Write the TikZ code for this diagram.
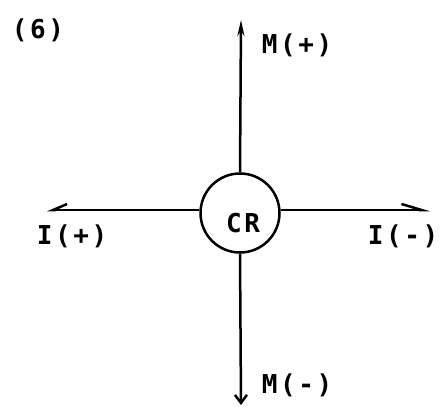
\documentclass[tikz,border=0pt]{standalone}
\usepackage{fontspec}
\setmainfont{DejaVu Sans Mono}[LetterSpace=10]
\usetikzlibrary{arrows.meta}
\begin{document}
\begin{tikzpicture}[x=1pt,y=-1pt,
  lbl/.style={font=\fontsize{26}{26}\selectfont\bfseries, inner sep=0pt},
  ln/.style={line width=2.5pt},
  crnode/.style={circle, draw, line width=2.5pt, minimum size=79pt, inner sep=0pt}]
\useasboundingbox (0,0) rectangle (443,406);
\node[crnode] (cr) at (240,213) {};
\node[lbl] (crt) at (243,223) {CR};
\coordinate (top) at (241,20);
\coordinate (bot) at (241,405);
\coordinate (lft) at (47,210);
\coordinate (rgt) at (430,210);
\draw[ln, -{Stealth[length=16pt,width=7pt]}] (cr.north) -- (top);
\draw[ln, -{Straight Barb[length=8pt,width=12pt]}] (cr.south) -- (bot);
\draw[ln, -{Straight Barb[harpoon,swap,length=14pt,width=12pt]}] (cr.west |- lft) -- (lft);
\draw[ln, -{Straight Barb[harpoon,length=20pt,width=12pt]}] (cr.east |- rgt) -- (rgt);
\node[lbl] (lab) at (38,30) {(6)};
\node[lbl] (mp) at (297,45) {M(+)};
\node[lbl] (ip) at (72,236) {I(+)};
\node[lbl] (im) at (403,236) {I(-)};
\node[lbl] (mm) at (297,385) {M(-)};
\end{tikzpicture}
\end{document}
